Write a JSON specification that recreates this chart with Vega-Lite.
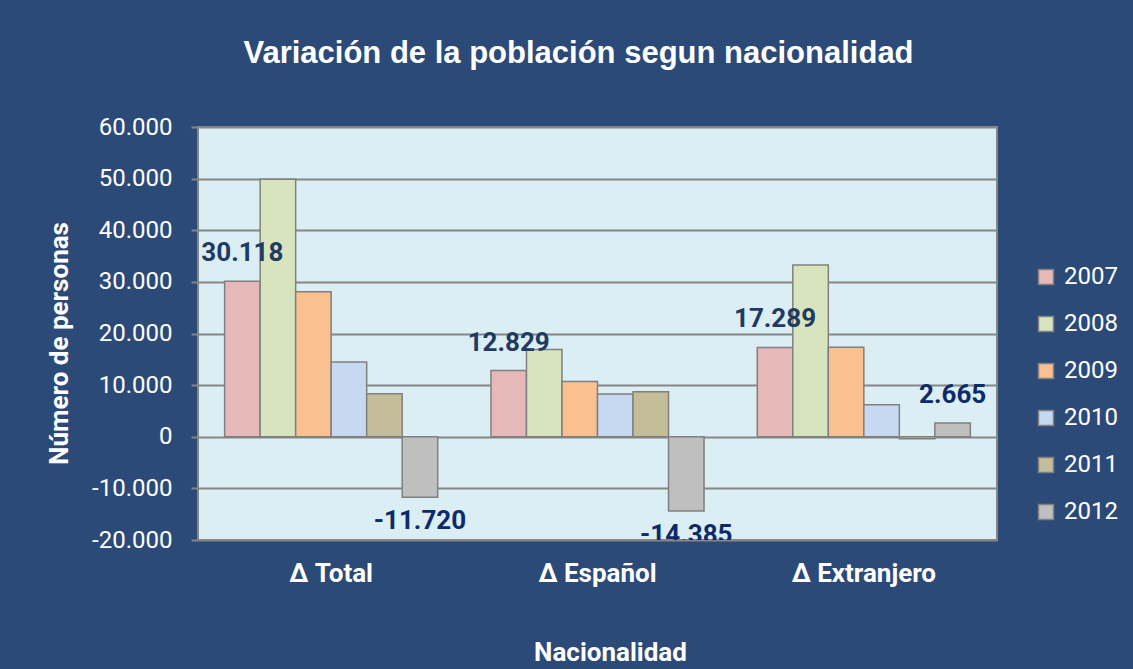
{
  "$schema": "https://vega.github.io/schema/vega-lite/v6.json",
  "autosize": "none",
  "padding": {"left": 198, "top": 127, "right": 136, "bottom": 129},
  "width": 799,
  "height": 413,
  "background": "#2C4A78",
  "title": {
    "text": "Variación de la población segun nacionalidad",
    "font": "Liberation Sans",
    "fontSize": 31,
    "fontWeight": "bold",
    "color": "#FFFFFF",
    "anchor": "middle",
    "dx": -19,
    "offset": 45
  },
  "data": {
    "values": [
      {"Nacionalidad": "Δ Total", "Year": "2007", "Personas": 30118},
      {"Nacionalidad": "Δ Total", "Year": "2008", "Personas": 49900},
      {"Nacionalidad": "Δ Total", "Year": "2009", "Personas": 28100},
      {"Nacionalidad": "Δ Total", "Year": "2010", "Personas": 14500},
      {"Nacionalidad": "Δ Total", "Year": "2011", "Personas": 8350},
      {"Nacionalidad": "Δ Total", "Year": "2012", "Personas": -11720},
      {"Nacionalidad": "Δ Español", "Year": "2007", "Personas": 12829},
      {"Nacionalidad": "Δ Español", "Year": "2008", "Personas": 16900},
      {"Nacionalidad": "Δ Español", "Year": "2009", "Personas": 10700},
      {"Nacionalidad": "Δ Español", "Year": "2010", "Personas": 8300},
      {"Nacionalidad": "Δ Español", "Year": "2011", "Personas": 8700},
      {"Nacionalidad": "Δ Español", "Year": "2012", "Personas": -14385},
      {"Nacionalidad": "Δ Extranjero", "Year": "2007", "Personas": 17289},
      {"Nacionalidad": "Δ Extranjero", "Year": "2008", "Personas": 33250},
      {"Nacionalidad": "Δ Extranjero", "Year": "2009", "Personas": 17350},
      {"Nacionalidad": "Δ Extranjero", "Year": "2010", "Personas": 6200},
      {"Nacionalidad": "Δ Extranjero", "Year": "2011", "Personas": -400},
      {"Nacionalidad": "Δ Extranjero", "Year": "2012", "Personas": 2665}
    ]
  },
  "encoding": {
    "x": {
      "field": "Nacionalidad",
      "type": "nominal",
      "sort": ["Δ Total", "Δ Español", "Δ Extranjero"],
      "scale": {"paddingInner": 0.2, "paddingOuter": 0.1},
      "axis": {
        "title": "Nacionalidad",
        "labelAngle": 0,
        "labelFont": "Roboto",
        "labelFontSize": 26,
        "labelFontWeight": "bold",
        "labelColor": "#FFFFFF",
        "labelPadding": 20,
        "domain": false,
        "ticks": false,
        "tickSize": 0,
        "titleFont": "Roboto",
        "titleFontSize": 26,
        "titleFontWeight": "bold",
        "titleColor": "#FFFFFF",
        "titleX": 412,
        "titleY": 112,
        "titleAlign": "center",
        "titleBaseline": "middle"
      }
    },
    "xOffset": {
      "field": "Year",
      "type": "nominal",
      "scale": {"paddingInner": 0, "paddingOuter": 0}
    },
    "y": {
      "field": "Personas",
      "type": "quantitative",
      "scale": {"domain": [-20000, 60000], "nice": false},
      "axis": {
        "title": "Número de personas",
        "values": [-20000, -10000, 0, 10000, 20000, 30000, 40000, 50000, 60000],
        "format": ",d",
        "labelFont": "Roboto",
        "labelFontSize": 24,
        "labelColor": "#FFFFFF",
        "labelPadding": 19,
        "tickSize": 7,
        "tickColor": "#868686",
        "tickWidth": 2,
        "domain": false,
        "grid": true,
        "gridColor": "#868686",
        "gridWidth": 2,
        "titleFont": "Roboto",
        "titleFontSize": 26,
        "titleFontWeight": "bold",
        "titleColor": "#FFFFFF",
        "titleAngle": -90,
        "titleX": -139,
        "titleY": 216,
        "titleAlign": "center",
        "titleBaseline": "middle"
      }
    }
  },
  "layer": [
    {
      "mark": {"type": "bar", "stroke": "#808080", "strokeWidth": 1.5},
      "encoding": {
        "color": {
          "field": "Year",
          "type": "nominal",
          "scale": {
            "domain": ["2007", "2008", "2009", "2010", "2011", "2012"],
            "range": ["#E6B9B8", "#D7E4BD", "#FAC090", "#C6D9F1", "#C4BD97", "#BFBFBF"]
          },
          "legend": {
            "title": null,
            "orient": "none",
            "legendX": 836,
            "legendY": 138,
            "padding": 0,
            "symbolType": "square",
            "symbolSize": 225,
            "symbolStrokeColor": "#808080",
            "symbolStrokeWidth": 1.5,
            "symbolOpacity": 1,
            "labelFont": "Roboto",
            "labelFontSize": 24,
            "labelColor": "#FFFFFF",
            "labelOffset": 6,
            "rowPadding": 23
          }
        }
      }
    },
    {
      "transform": [
        {"filter": "(datum.Year == '2007' || datum.Year == '2012') && datum.Personas >= 0"}
      ],
      "mark": {"type": "text", "font": "Roboto", "fontSize": 26, "fontWeight": "bold", "baseline": "middle", "dy": -28},
      "encoding": {
        "text": {"field": "Personas", "type": "quantitative", "format": ",d"},
        "color": {"condition": {"test": "datum.Year == '2007'", "value": "#1F3A63"}, "value": "#0E2A6A"}
      }
    },
    {
      "transform": [
        {"filter": "(datum.Year == '2007' || datum.Year == '2012') && datum.Personas < 0"}
      ],
      "mark": {"type": "text", "font": "Roboto", "fontSize": 26, "fontWeight": "bold", "baseline": "middle", "dy": 24, "clip": true},
      "encoding": {
        "text": {"field": "Personas", "type": "quantitative", "format": ",d"},
        "color": {"value": "#0E2A6A"}
      }
    }
  ],
  "config": {
    "locale": {
      "number": {"decimal": ",", "thousands": ".", "grouping": [3], "currency": ["", " €"], "minus": "-"}
    },
    "view": {"fill": "#DBEEF4", "stroke": "#868686", "strokeWidth": 2}
  }
}
